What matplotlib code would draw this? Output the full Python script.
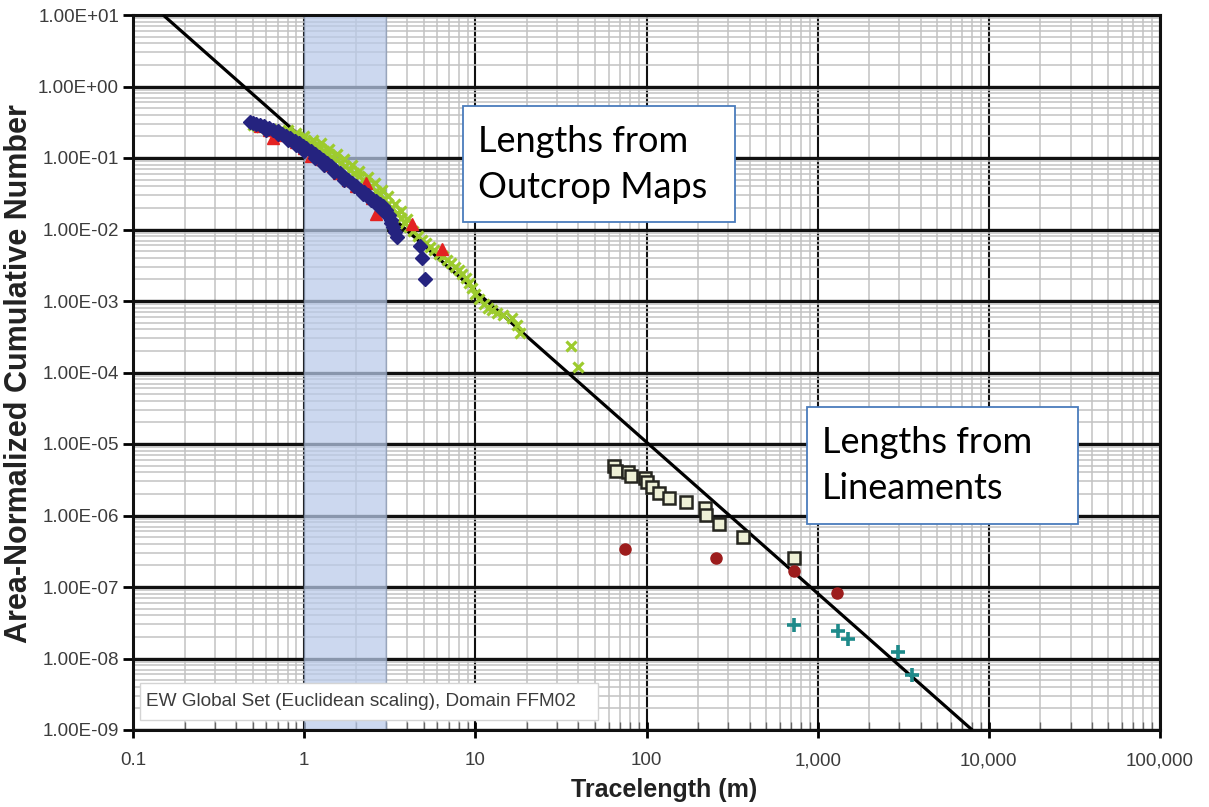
import matplotlib
matplotlib.use("Agg")
import matplotlib.pyplot as plt
from matplotlib.ticker import FixedLocator, FixedFormatter, LogLocator, NullFormatter
from matplotlib.patches import Rectangle

# ---- data -------------------------------------------------------------
# outcrop trace lengths (m) and area-normalised cumulative number
blue_x = [0.48, 0.50, 0.52, 0.55, 0.58, 0.62, 0.66, 0.70, 0.74, 0.78, 0.83, 0.88,
          0.93, 0.98, 1.03, 1.09, 1.15, 1.22, 1.29, 1.36, 1.44, 1.52, 1.61, 1.70,
          1.80, 1.90, 2.01, 2.12, 2.24, 2.36, 2.49, 2.62, 2.76, 2.90, 3.02, 3.12,
          3.22, 3.30, 3.40, 3.48, 4.73, 4.87, 5.07,
          0.60, 0.70, 0.80, 0.90, 1.00, 1.15, 1.30, 1.50, 1.70, 1.95, 2.20, 2.45,
          2.70, 2.95, 3.20]
blue_y = [0.32, 0.31, 0.30, 0.29, 0.28, 0.265, 0.25, 0.235, 0.22, 0.205, 0.19, 0.175,
          0.16, 0.148, 0.136, 0.124, 0.113, 0.102, 0.093, 0.085, 0.077, 0.069, 0.062, 0.055,
          0.049, 0.045, 0.040, 0.036, 0.033, 0.030, 0.027, 0.025, 0.023, 0.021, 0.019, 0.016,
          0.0135, 0.011, 0.0092, 0.0078, 0.0059, 0.0040, 0.0020,
          0.25, 0.215, 0.18, 0.15, 0.125, 0.10, 0.080, 0.063, 0.050, 0.040, 0.031, 0.026,
          0.021, 0.017, 0.0125]

red_x = [0.55, 0.62, 0.66, 0.75, 0.90, 1.00, 1.10, 1.25, 1.40, 1.60, 1.80, 2.00,
         2.30, 2.49, 2.62, 4.25, 6.40]
red_y = [0.28, 0.25, 0.19, 0.21, 0.165, 0.14, 0.105, 0.098, 0.080, 0.062, 0.050, 0.041,
         0.045, 0.0275, 0.0165, 0.012, 0.0053]

green_x = [0.50, 0.53, 0.56, 0.60, 0.64, 0.68, 0.72, 0.77, 0.82, 0.87, 0.92, 0.97,
           1.03, 1.09, 1.16, 1.23, 1.30, 1.38, 1.46, 1.55, 1.64, 1.74, 1.85, 1.96,
           2.08, 2.20, 2.33, 2.47, 2.62, 2.77, 2.93, 3.10, 3.28, 3.47, 3.67, 3.88,
           4.10, 4.34, 4.60, 4.87, 5.15, 5.45, 5.77, 6.10, 6.45, 6.82, 7.20, 7.60,
           8.00, 8.40, 8.80, 9.20, 9.60, 10.0, 10.5, 11.2, 11.8, 12.5, 13.3, 14.5,
           16.3, 17.5, 18.2, 36.0, 39.6,
           0.80, 0.90, 1.00, 1.12, 1.25, 1.40, 1.55, 1.70, 1.90, 2.10, 2.35, 2.60,
           2.85, 3.10, 3.40, 3.70, 4.00]
green_y = [0.29, 0.28, 0.275, 0.265, 0.255, 0.245, 0.235, 0.225, 0.215, 0.205, 0.195, 0.185,
           0.172, 0.16, 0.148, 0.136, 0.125, 0.114, 0.104, 0.094, 0.085, 0.077, 0.069, 0.062,
           0.056, 0.050, 0.045, 0.040, 0.035, 0.031, 0.027, 0.023, 0.020, 0.017, 0.0145, 0.0125,
           0.0108, 0.0094, 0.0082, 0.0072, 0.0064, 0.0057, 0.0051, 0.0046, 0.0042, 0.0038, 0.0034, 0.0030,
           0.0027, 0.0024, 0.0021, 0.0018, 0.0015, 0.00125, 0.00105, 0.00092, 0.0008, 0.00074, 0.00068, 0.00063,
           0.00058, 0.00046, 0.00036, 0.000235, 0.000119,
           0.245, 0.225, 0.205, 0.18, 0.16, 0.135, 0.115, 0.097, 0.080, 0.066, 0.054, 0.044,
           0.036, 0.029, 0.023, 0.018, 0.014]

# lineament trace lengths
square_x = [64.3, 66.0, 77.6, 80.8, 97.5, 101, 107, 118, 136, 169, 221, 224, 264, 364, 732]
square_y = [4.9e-6, 4.2e-6, 4.06e-6, 3.57e-6, 3.35e-6, 2.94e-6, 2.5e-6, 2.06e-6, 1.76e-6,
            1.55e-6, 1.27e-6, 1.02e-6, 7.6e-7, 5.0e-7, 2.55e-7]

circle_x = [74.5, 256, 732, 1290]
circle_y = [3.4e-7, 2.55e-7, 1.67e-7, 8.2e-8]

plus_x = [732, 1322, 1513, 2963, 3576]
plus_y = [2.94e-8, 2.43e-8, 1.87e-8, 1.23e-8, 5.9e-9]

# power-law fit line end points
fit_x = [0.15, 8000]
fit_y = [10.0, 1e-9]

# scale range highlighted on the plot (m)
band_range = [1.0, 3.0]

x_ticks = [0.1, 1, 10, 100, 1000, 10000, 100000]
x_tick_labels = ["0.1", "1", "10", "100", "1,000", "10,000", "100,000"]
y_ticks = [1e-9, 1e-8, 1e-7, 1e-6, 1e-5, 1e-4, 1e-3, 1e-2, 1e-1, 1e0, 1e1]
y_tick_labels = ["1.00E-09", "1.00E-08", "1.00E-07", "1.00E-06", "1.00E-05", "1.00E-04",
                 "1.00E-03", "1.00E-02", "1.00E-01", "1.00E+00", "1.00E+01"]

# ---- figure -----------------------------------------------------------
W, H = 1209, 807
fig = plt.figure(figsize=(W / 100, H / 100), dpi=100)
ax = fig.add_axes([133 / W, 1 - 730 / H, (1160 - 133) / W, (730 - 15) / H])
ax.set_xscale("log")
ax.set_yscale("log")
ax.set_xlim(0.1, 100000)
ax.set_ylim(1e-9, 10)

# grid: grey minor lines, black decade lines
ax.set_axisbelow(True)
ax.xaxis.set_minor_locator(LogLocator(base=10, subs=range(2, 10), numticks=20))
ax.yaxis.set_minor_locator(LogLocator(base=10, subs=range(2, 10), numticks=30))
ax.grid(which="minor", color="#c2c2c2", linewidth=1.1)
ax.grid(which="major", axis="y", color="#111111", linewidth=2.4)
ax.grid(which="major", axis="x", color="#111111", linewidth=1.5)

ax.axvspan(band_range[0], band_range[1], facecolor="#b9cae9", alpha=0.72,
           edgecolor="#8796b0", linewidth=1.0, zorder=1.5)

ax.plot(fit_x, fit_y, color="black", linewidth=2.3, zorder=3, solid_capstyle="butt")

ax.plot(green_x, green_y, linestyle="none", marker="x", markersize=6.5,
        markeredgewidth=2.3, color="#9dcb2e", zorder=4)
ax.plot(red_x, red_y, linestyle="none", marker="^", markersize=8.5,
        color="#e32222", markeredgecolor="#e32222", zorder=5)
ax.plot(blue_x, blue_y, linestyle="none", marker="D", markersize=7,
        color="#25237f", markeredgecolor="#25237f", zorder=6)

ax.plot(square_x, square_y, linestyle="none", marker="s", markersize=8.5,
        markerfacecolor="#eef0d6", markeredgecolor="#262620", markeredgewidth=1.8, zorder=5)
ax.plot(circle_x, circle_y, linestyle="none", marker="o", markersize=8,
        color="#9c1c1c", zorder=6)
ax.plot(plus_x, plus_y, linestyle="none", marker="+", markersize=10,
        markeredgewidth=2.6, color="#1e8a8a", zorder=6)

# ticks and labels
ax.xaxis.set_major_locator(FixedLocator(x_ticks))
ax.xaxis.set_major_formatter(FixedFormatter(x_tick_labels))
ax.xaxis.set_minor_formatter(NullFormatter())
ax.yaxis.set_major_locator(FixedLocator(y_ticks))
ax.yaxis.set_major_formatter(FixedFormatter(y_tick_labels))
ax.yaxis.set_minor_formatter(NullFormatter())
ax.tick_params(axis="x", which="major", direction="inout", length=12, width=2,
               labelsize=13.5, labelcolor="#3c3c3c", pad=10)
ax.tick_params(axis="x", which="minor", direction="in", length=6, width=1, color="#666666")
ax.tick_params(axis="y", which="major", direction="out", length=7, width=2,
               labelsize=13.5, labelcolor="#3c3c3c", pad=3)
ax.tick_params(axis="y", which="minor", length=0)
for lab in ax.get_xticklabels() + ax.get_yticklabels():
    lab.set_fontfamily("Liberation Sans")
for s in ax.spines.values():
    s.set_linewidth(2.2)
    s.set_color("#111111")

fig.text(664 / W, 1 - 790 / H, "Tracelength (m)", ha="center", va="center",
         fontsize=18, fontweight="bold", color="#222222", family="Liberation Sans")
fig.text(19 / W, 1 - 374 / H, "Area-Normalized Cumulative Number", rotation=90,
         ha="center", va="center", fontsize=22, fontweight="bold", color="#222222",
         family="Liberation Sans")

# annotation boxes
def text_box(x0, y0, x1, y1, lines, tx, ty):
    ax.add_patch(Rectangle((x0, y0), x1 - x0, y1 - y0, transform=ax.transAxes,
                           facecolor="white", edgecolor="#4a7cbc", linewidth=1.3, zorder=8))
    for line, yy in zip(lines, ty):
        ax.text(tx, yy, line, transform=ax.transAxes, ha="left", va="baseline",
                fontsize=26, family="Lato", color="black", zorder=9)

text_box((463 - 133) / 1027, (730 - 222) / 715, (735 - 133) / 1027, (730 - 106) / 715,
         ["Lengths from", "Outcrop Maps"], (478 - 133) / 1027,
         [(730 - 152) / 715, (730 - 198) / 715])
text_box((807 - 133) / 1027, (730 - 524) / 715, (1078 - 133) / 1027, (730 - 407) / 715,
         ["Lengths from", "Lineaments"], (822 - 133) / 1027,
         [(730 - 453) / 715, (730 - 499) / 715])

ax.add_patch(Rectangle((7 / 1027, 10 / 715), 458 / 1027, 37 / 715, transform=ax.transAxes,
                       facecolor="white", edgecolor="#d4d4d4", linewidth=1.0, zorder=8))
ax.text(13 / 1027, 28 / 715, "EW Global Set (Euclidean scaling), Domain FFM02",
        transform=ax.transAxes, ha="left", va="center", fontsize=13.7,
        family="Liberation Sans", color="#3c3c3c", zorder=9)

fig.savefig("out.png", dpi=100)
